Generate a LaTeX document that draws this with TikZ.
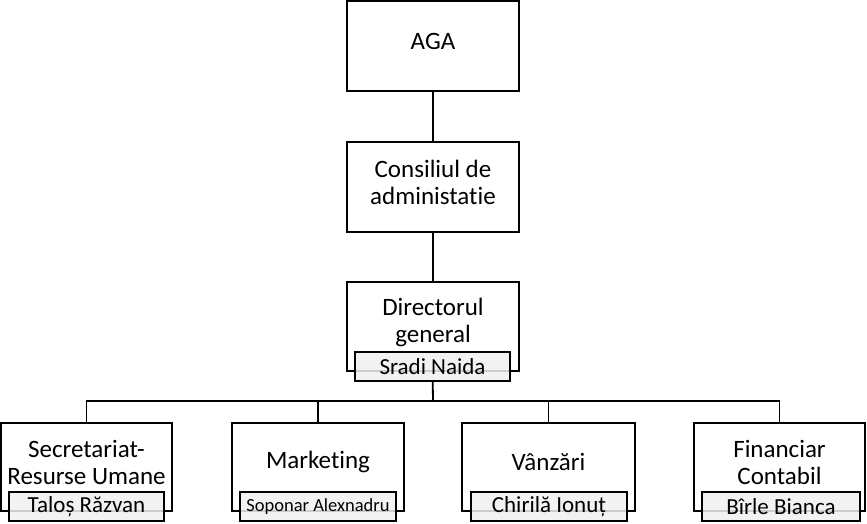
\documentclass[tikz,border=0pt]{standalone}
\usepackage{fontspec}
\setmainfont{Carlito}[Ligatures=NoCommon]
\usepackage{tikz}
\usetikzlibrary{positioning,calc}

\begin{document}
\begin{tikzpicture}[x=1pt,y=-1pt,
	unitbox/.style={draw,line width=1.8pt,fill=white,minimum width=172pt,minimum height=89pt,inner sep=0pt},
	unittext/.style={align=center,inner sep=0pt,font=\fontsize{25}{27}\selectfont},
	namebox/.style={draw,line width=1.8pt,fill=gray!12,fill opacity=0.85,text opacity=1,minimum width=155pt,minimum height=29pt,inner sep=0pt,font=\fontsize{23}{24}\selectfont},
	link/.style={line width=1.8pt}]
	\useasboundingbox (0,0) rectangle (867,523);
	\def\ty{5pt}
	% conducere
	\node[unitbox,minimum height=90pt] (aga) at (433,46) {};
	\node[unitbox,minimum height=90pt] (cons) at (433,187) {};
	\node[unitbox] (dir) at (433,326.5) {};
	\node[unittext] (agat) at ([yshift=\ty]aga.center) {AGA};
	\node[unittext] (const) at ([yshift=\ty]cons.center) {Consiliul de\\administatie};
	\node[unittext] (dirt) at ([yshift=4pt]dir.center) {Directorul\\general};
	\node[namebox] (dirn) at (432.5,366.5) {Sradi Naida};
	\draw[link] (aga) -- (cons);
	\draw[link] (cons) -- (dir);
	% departamente
	\node[unitbox,minimum width=171pt,minimum height=88pt] (secr) at (86.5,467) {};
	\node[unitbox,minimum height=88pt] (mark) at (318,467) {};
	\node[unitbox,minimum width=173pt,minimum height=88pt] (vanz) at (548.5,467) {};
	\node[unitbox,minimum width=171pt,minimum height=88pt] (fin) at (779.5,467) {};
	\node[unittext] (secrt) at ([yshift=\ty]secr.center) {Secretariat-\\Resurse Umane};
	\node[unittext] (markt) at ([yshift=\ty]mark.center) {Marketing};
	\node[unittext] (vanzt) at ([yshift=\ty]vanz.center) {Vânzări};
	\node[unittext] (fint) at ([yshift=\ty]fin.center) {Financiar\\Contabil};
	\node[namebox] (secrn) at (86.5,506.5) {Taloș Răzvan};
	\node[namebox,minimum width=156pt,font=\fontsize{18.5}{22}\selectfont] (markn) at (318,506.5) {Soponar Alexnadru};
	\node[namebox,minimum width=156pt] (vanzn) at (549,506.5) {Chirilă Ionuț};
	\node[namebox,minimum width=158pt] (finn) at (781,506.5) {Bîrle Bianca};
	\coordinate (bus) at (433,401);
	\draw[link] (dirn) -- (bus);
	\foreach \u in {secr,mark,vanz,fin}
		\draw[link] (bus) -| (\u);
\end{tikzpicture}
\end{document}
